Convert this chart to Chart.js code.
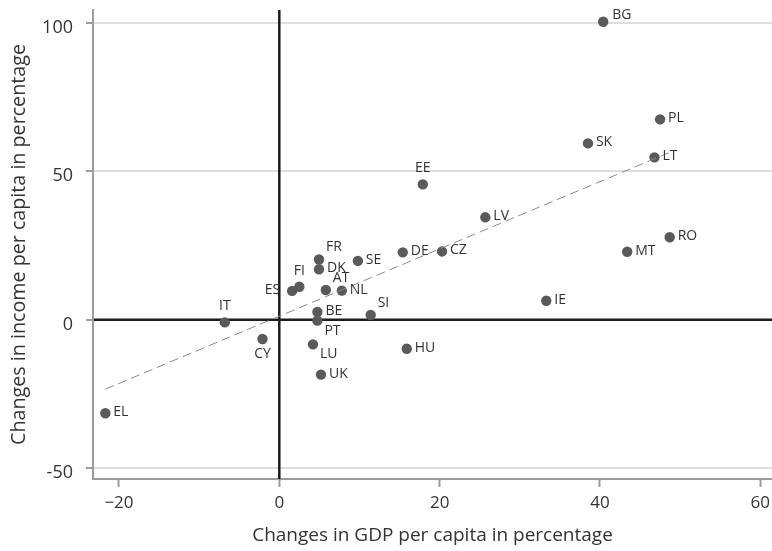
<!DOCTYPE html>
<html>
<head>
<meta charset="utf-8">
<script src="https://cdn.jsdelivr.net/npm/chart.js@4/dist/chart.umd.min.js"></script>
<style>
  html, body { margin: 0; padding: 0; background: #ffffff; }
  #wrap { width: 772px; height: 551px; }
</style>
</head>
<body>
<div id="wrap"><canvas id="chart" width="772" height="551"></canvas></div>
<script>
// Country codes and their changes (%) in GDP per capita and in income per capita
const countries = ['BG','PL','SK','LT','EE','LV','RO','MT','DE','CZ','IE','HU','SI','IT','CY','EL','ES','FI','AT','NL','BE','PT','LU','UK','FR','DK','SE'];
const gdpChange = [40.4, 47.5, 38.5, 46.8, 17.9, 25.7, 48.7, 43.4, 15.4, 20.3, 33.3, 15.9, 11.4, -6.8, -2.1, -21.7, 1.6, 2.5, 5.8, 7.8, 4.75, 4.75, 4.2, 5.2, 4.95, 4.95, 9.8];
const incomeChange = [100.4, 67.5, 59.4, 54.7, 45.6, 34.5, 27.8, 22.9, 22.7, 23.0, 6.4, -9.8, 1.6, -0.9, -6.5, -31.5, 9.7, 11.1, 10.0, 9.8, 2.6, -0.3, -8.3, -18.5, 20.3, 17.0, 19.8];

// Fitted line end points
const trendX = [-21.7, 48.8];
const trendY = [-23.4, 56.5];

// Axis ticks
const xTicks = [-20, 0, 20, 40, 60];
const xTickLabels = ['\u221220', '0', '20', '40', '60'];
const yTicks = [-50, 0, 50, 100];
const yTickLabels = ['-50', '0', '50', '100'];

const xTitle = 'Changes in GDP per capita in percentage';
const yTitle = 'Changes in income per capita in percentage';

// Marker label placement as clock positions (3 = right, 12 = above, ...)
const labelClock = {
  BG: 2, EE: 12, IT: 12, FI: 12, CY: 6, ES: 9,
  FR: 1, AT: 1, SI: 1, PT: 4, LU: 4
};
const clockOffsets = {
  3:  { dx: 8,   dy: -1,  align: 'left' },
  12: { dx: 0,   dy: -16, align: 'center' },
  6:  { dx: 0,   dy: 15,  align: 'center' },
  9:  { dx: -12, dy: -1,  align: 'right' },
  1:  { dx: 7,   dy: -12, align: 'left' },
  2:  { dx: 9,   dy: -7,  align: 'left' },
  4:  { dx: 7,   dy: 10,  align: 'left' }
};

const FONT = "'Open Sans', 'Noto Sans', sans-serif";
const TEXT = '#333333';
const AXIS = '#9c9c9c';

// Heavy reference lines at x = 0 and y = 0
const zeroLines = {
  id: 'zeroLines',
  beforeDatasetsDraw(chart) {
    const { ctx, chartArea: a, scales: { x, y } } = chart;
    const x0 = x.getPixelForValue(0);
    const y0 = y.getPixelForValue(0);
    ctx.save();
    ctx.strokeStyle = '#1c1c1c';
    ctx.lineWidth = 2.5;
    ctx.beginPath();
    ctx.moveTo(x0, a.top);
    ctx.lineTo(x0, a.bottom);
    ctx.moveTo(a.left + 1, y0);
    ctx.lineTo(a.right, y0);
    ctx.stroke();
    ctx.restore();
  }
};

// Country code next to each marker
const pointLabels = {
  id: 'pointLabels',
  afterDatasetsDraw(chart) {
    const { ctx } = chart;
    const meta = chart.getDatasetMeta(1);
    ctx.save();
    ctx.font = '14px ' + FONT;
    ctx.fillStyle = TEXT;
    ctx.textBaseline = 'middle';
    meta.data.forEach((pt, i) => {
      const code = countries[i];
      const o = clockOffsets[labelClock[code] || 3];
      ctx.textAlign = o.align;
      ctx.fillText(code, pt.x + o.dx, pt.y + o.dy);
    });
    ctx.restore();
  }
};

new Chart(document.getElementById('chart'), {
  data: {
    datasets: [
      {
        type: 'line',
        data: trendX.map((v, i) => ({ x: v, y: trendY[i] })),
        borderColor: '#8a8a8a',
        borderWidth: 1,
        borderDash: [9, 5],
        pointRadius: 0,
        fill: false
      },
      {
        type: 'scatter',
        data: gdpChange.map((v, i) => ({ x: v, y: incomeChange[i] })),
        backgroundColor: '#5a5a5a',
        borderWidth: 0,
        pointRadius: 5.2,
        pointHoverRadius: 5.2
      }
    ]
  },
  options: {
    responsive: false,
    animation: false,
    devicePixelRatio: 1,
    layout: { autoPadding: false, padding: { top: 10, right: 0, bottom: 0, left: 0 } },
    plugins: { legend: { display: false }, tooltip: { enabled: false } },
    scales: {
      x: {
        type: 'linear',
        min: -23.24,
        max: 61.46,
        afterBuildTicks: s => { s.ticks = xTicks.map(v => ({ value: v })); },
        afterFit: s => { s.height = 72; s.paddingLeft = 0; s.paddingRight = 0; },
        grid: { drawOnChartArea: false, tickLength: 8, tickColor: AXIS, tickWidth: 2 },
        border: { color: AXIS, width: 2 },
        ticks: {
          callback: v => xTickLabels[xTicks.indexOf(v)],
          font: { family: FONT, size: 17 },
          color: TEXT,
          padding: 6,
          maxRotation: 0
        },
        title: {
          display: true, text: xTitle,
          font: { family: FONT, size: 19 }, color: TEXT,
          padding: { top: 0, bottom: 4 }
        }
      },
      y: {
        type: 'linear',
        min: -53.67,
        max: 104.35,
        afterBuildTicks: s => { s.ticks = yTicks.map(v => ({ value: v })); },
        afterFit: s => { s.width = 93; s.paddingTop = 0; s.paddingBottom = 0; },
        grid: { color: '#dedede', lineWidth: 2, tickLength: 7, tickColor: AXIS, tickWidth: 2 },
        border: { color: AXIS, width: 2 },
        ticks: {
          callback: v => yTickLabels[yTicks.indexOf(v)],
          font: { family: FONT, size: 18 },
          color: TEXT,
          padding: 13,
          labelOffset: 5
        },
        title: {
          display: true, text: yTitle,
          font: { family: FONT, size: 19.7 }, color: TEXT,
          padding: { top: 8, bottom: 0 }
        }
      }
    }
  },
  plugins: [zeroLines, pointLabels]
});
</script>
</body>
</html>
